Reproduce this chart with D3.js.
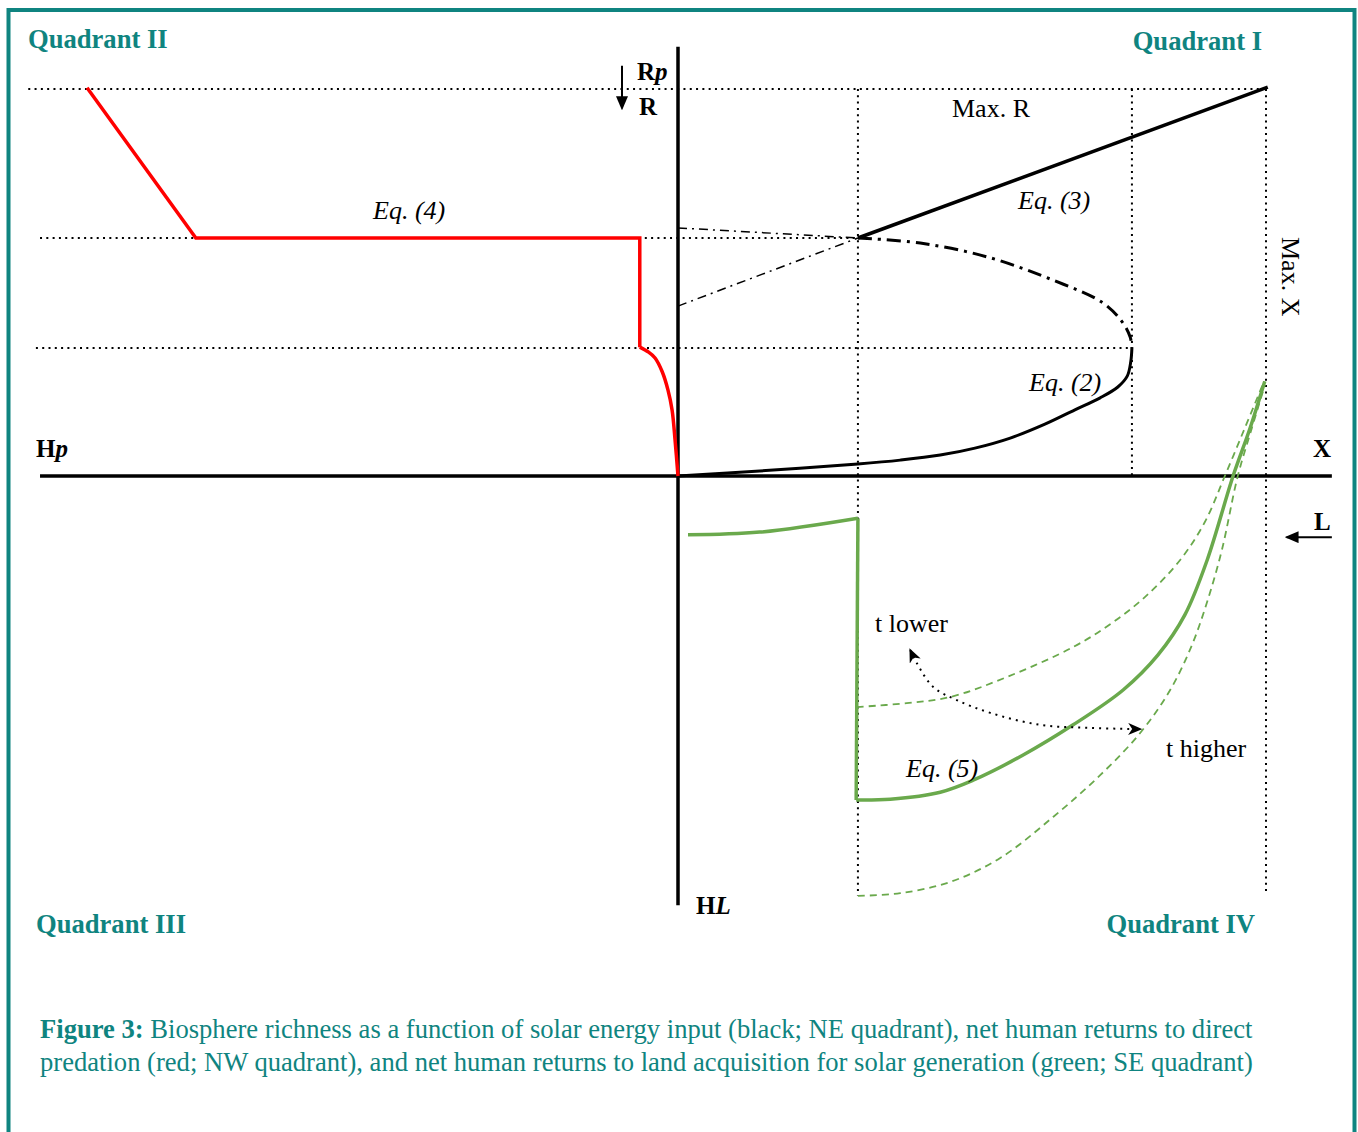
<!DOCTYPE html>
<html>
<head>
<meta charset="utf-8">
<script src="https://cdn.jsdelivr.net/npm/d3@7"></script>
<style>
  body { margin: 0; background: #fff; }
  svg text { font-family: "Liberation Serif", "Times New Roman", serif; }
</style>
</head>
<body>
<svg id="chart" width="1358" height="1132"></svg>
<script>
// ---- data (conceptual units: X and R run 0..10, Hp / HL are the negative sides)
const redX = [-10.05, -8.2, -0.65, -0.65, -0.5, -0.39, -0.27, -0.17, -0.1, -0.05, 0]
const redY = [10.03, 6.15, 6.15, 3.33, 3.2, 3.05, 2.7, 2.22, 1.7, 0.93, 0]

const eq3X = [3.06, 10.03]
const eq3Y = [6.15, 10.05]

const chordLowX = [0, 3.06]
const chordLowY = [4.39, 6.15]
const chordTopX = [0, 3.06]
const chordTopY = [6.41, 6.15]

const upperBranchX = [3.06, 4.12, 5.26, 6.38, 7.23, 7.57, 7.69, 7.72]
const upperBranchY = [6.15, 6.02, 5.66, 5.06, 4.47, 3.95, 3.59, 3.33]

const eq2X = [7.72, 7.7, 7.64, 7.48, 7.18, 6.75, 6.24, 5.65, 5.05, 4.46, 3.78, 3.06, 1.39, 0]
const eq2Y = [3.33, 2.95, 2.58, 2.3, 2.02, 1.71, 1.34, 0.98, 0.72, 0.54, 0.41, 0.31, 0.13, 0]

const greenX = [0.17, 1.39, 3.06, 3.03, 3.61, 4.46, 5.02, 5.87, 6.72, 7.57, 8.16, 8.62, 9.0, 9.44, 9.73, 9.98]
const greenY = [-1.52, -1.45, -1.09, -8.37, -8.35, -8.17, -7.86, -7.21, -6.43, -5.53, -4.63, -3.59, -2.17, 0, 1.24, 2.45]

const tLowerX = [3.04, 3.89, 4.63, 5.6, 6.72, 7.35, 7.94, 8.54, 8.96, 9.3, 9.64, 9.95]
const tLowerY = [-5.97, -5.87, -5.71, -5.19, -4.42, -3.83, -3.13, -2.17, -1.19, 0, 1.24, 2.38]

const tHigherX = [3.06, 3.78, 4.63, 5.48, 6.38, 7.18, 7.86, 8.37, 8.74, 9.01, 9.25, 9.52, 9.76, 9.98]
const tHigherY = [-10.85, -10.78, -10.49, -9.87, -8.81, -7.73, -6.64, -5.53, -4.37, -3.2, -1.91, 0, 1.24, 2.35]

const shiftX = [3.95, 4.06, 4.34, 4.74, 5.31, 6.16, 7.01, 7.86]
const shiftY = [-4.5, -4.83, -5.45, -5.79, -6.12, -6.43, -6.51, -6.54]

// dotted guides: [x1, y1, x2, y2]
const guides = [
  [-11.05, 10, 10.03, 10],
  [-10.85, 6.15, 3.06, 6.15],
  [-10.92, 3.31, 7.72, 3.31],
  [3.06, 10, 3.06, -10.85],
  [7.72, 10, 7.72, 0],
  [10, 10, 10, -10.75]
]

const quadrantLabels = ['Quadrant II', 'Quadrant I', 'Quadrant III', 'Quadrant IV']
const captionLines = [
  ['Figure 3:', ' Biosphere richness as a function of solar energy input (black; NE quadrant), net human returns to direct'],
  ['', 'predation (red; NW quadrant), and net human returns to land acquisition for solar generation (green; SE quadrant)']
]

const teal = '#0f8480'
const green = '#6aa94c'

const svg = d3.select('#chart')
const x = d3.scaleLinear().domain([0, 10]).range([678, 1266])
const y = d3.scaleLinear().domain([0, 10]).range([476, 89])

// frame
svg.append('rect')
  .attr('x', 8.5).attr('y', 10).attr('width', 1346).attr('height', 1140)
  .attr('fill', 'none').attr('stroke', teal).attr('stroke-width', 4)

// markers
const defs = svg.append('defs')
defs.append('marker')
  .attr('id', 'stealth')
  .attr('viewBox', '0 -6 14 12')
  .attr('refX', 12).attr('refY', 0)
  .attr('markerWidth', 14).attr('markerHeight', 12)
  .attr('markerUnits', 'userSpaceOnUse')
  .attr('orient', 'auto-start-reverse')
  .append('path').attr('d', 'M0,-6 L14,0 L0,6 L4,0 Z').attr('fill', '#000')
defs.append('marker')
  .attr('id', 'tri')
  .attr('viewBox', '0 -6 14 12')
  .attr('refX', 12).attr('refY', 0)
  .attr('markerWidth', 14).attr('markerHeight', 12)
  .attr('markerUnits', 'userSpaceOnUse')
  .attr('orient', 'auto')
  .append('path').attr('d', 'M0,-6 L14,0 L0,6 Z').attr('fill', '#000')

// guides
svg.append('g').selectAll('line')
  .data(guides)
  .join('line')
  .attr('x1', d => x(d[0])).attr('y1', d => y(d[1]))
  .attr('x2', d => x(d[2])).attr('y2', d => y(d[3]))
  .attr('stroke', '#000').attr('stroke-width', 2)
  .attr('stroke-dasharray', '2,4.3')

// axes
svg.append('line')
  .attr('x1', x(-10.85)).attr('x2', x(11.12)).attr('y1', y(0)).attr('y2', y(0))
  .attr('stroke', '#000').attr('stroke-width', 3.5)
svg.append('line')
  .attr('x1', x(0)).attr('x2', x(0)).attr('y1', y(11.09)).attr('y2', y(-11.09))
  .attr('stroke', '#000').attr('stroke-width', 3.5)

const zip = (xs, ys) => xs.map((v, i) => [v, ys[i]])
const smooth = d3.line().x(d => x(d[0])).y(d => y(d[1])).curve(d3.curveCatmullRom.alpha(0.5))
const straight = d3.line().x(d => x(d[0])).y(d => y(d[1]))

function draw (gen, pts, color, width, dash) {
  return svg.append('path')
    .attr('d', gen(pts))
    .attr('fill', 'none')
    .attr('stroke', color)
    .attr('stroke-width', width)
    .attr('stroke-dasharray', dash || null)
    .attr('stroke-linejoin', 'miter')
}

// black - NE
draw(straight, zip(chordLowX, chordLowY), '#000', 1.5, '9,5,2,5')
draw(straight, zip(chordTopX, chordTopY), '#000', 1.5, '9,5,2,5')
draw(smooth, zip(upperBranchX, upperBranchY), '#000', 3, '14,6,3,6')
draw(smooth, zip(eq2X, eq2Y), '#000', 3)
draw(straight, zip(eq3X, eq3Y), '#000', 3.5)

// red - NW
const redPts = zip(redX, redY)
draw(straight, redPts.slice(0, 4), '#ff0000', 3.5)
draw(smooth, redPts.slice(3), '#ff0000', 3.5)

// green - SE
const greenPts = zip(greenX, greenY)
draw(smooth, greenPts.slice(0, 3), green, 3.5)
draw(straight, greenPts.slice(2, 4), green, 3.5)
draw(smooth, greenPts.slice(3), green, 3.5)
draw(smooth, zip(tLowerX, tLowerY), green, 1.8, '7,5')
draw(smooth, zip(tHigherX, tHigherY), green, 1.8, '7,5')

// shift arrow between curves
draw(smooth, zip(shiftX, shiftY), '#000', 2, '2,5')
  .attr('marker-start', 'url(#stealth)')
  .attr('marker-end', 'url(#stealth)')

// small axis arrows
svg.append('line')
  .attr('x1', 622).attr('y1', y(10.6)).attr('x2', 622).attr('y2', y(9.5))
  .attr('stroke', '#000').attr('stroke-width', 2).attr('marker-end', 'url(#tri)')
svg.append('line')
  .attr('x1', x(11.12)).attr('y1', y(-1.58)).attr('x2', x(10.35)).attr('y2', y(-1.58))
  .attr('stroke', '#000').attr('stroke-width', 2).attr('marker-end', 'url(#tri)')

// labels
function label (px, py, parts, opts) {
  opts = opts || {}
  const t = svg.append('text')
    .attr('x', px).attr('y', py)
    .attr('font-size', opts.size || 26)
    .attr('fill', opts.color || '#000')
    .attr('text-anchor', opts.anchor || 'start')
  if (opts.rotate) t.attr('transform', `rotate(${opts.rotate},${px},${py})`)
  parts.forEach(p => {
    t.append('tspan').text(p[0])
      .attr('font-weight', p[1] ? 'bold' : null)
      .attr('font-style', p[2] ? 'italic' : null)
  })
  return t
}

const qOpts = { size: 26.6, color: teal }
label(28, 48, [[quadrantLabels[0], 1]], qOpts)
label(1262, 50, [[quadrantLabels[1], 1]], Object.assign({ anchor: 'end' }, qOpts))
label(36, 933, [[quadrantLabels[2], 1]], qOpts)
label(1255, 933, [[quadrantLabels[3], 1]], Object.assign({ anchor: 'end' }, qOpts))

label(637, 80, [['R', 1], ['p', 1, 1]], { size: 25 })
label(639, 115, [['R', 1]], { size: 25 })
label(36, 457, [['H', 1], ['p', 1, 1]], { size: 25 })
label(1313, 457, [['X', 1]], { size: 25 })
label(1314, 530, [['L', 1]], { size: 25 })
label(696, 914, [['H', 1], ['L', 1, 1]], { size: 25 })

label(952, 117, [['Max. R']])
label(1018, 209, [['Eq. (3)', 0, 1]])
label(373, 219, [['Eq. (4)', 0, 1]])
label(1029, 391, [['Eq. (2)', 0, 1]])
label(906, 777, [['Eq. (5)', 0, 1]])
label(875, 632, [['t lower']])
label(1166, 757, [['t higher']])
label(1282, 237, [['Max. X']], { rotate: 90 })

// caption
captionLines.forEach((ln, i) => {
  label(40, 1038 + i * 33, [[ln[0], 1], [ln[1]]], { size: 26.6, color: teal })
})
</script>
</body>
</html>
